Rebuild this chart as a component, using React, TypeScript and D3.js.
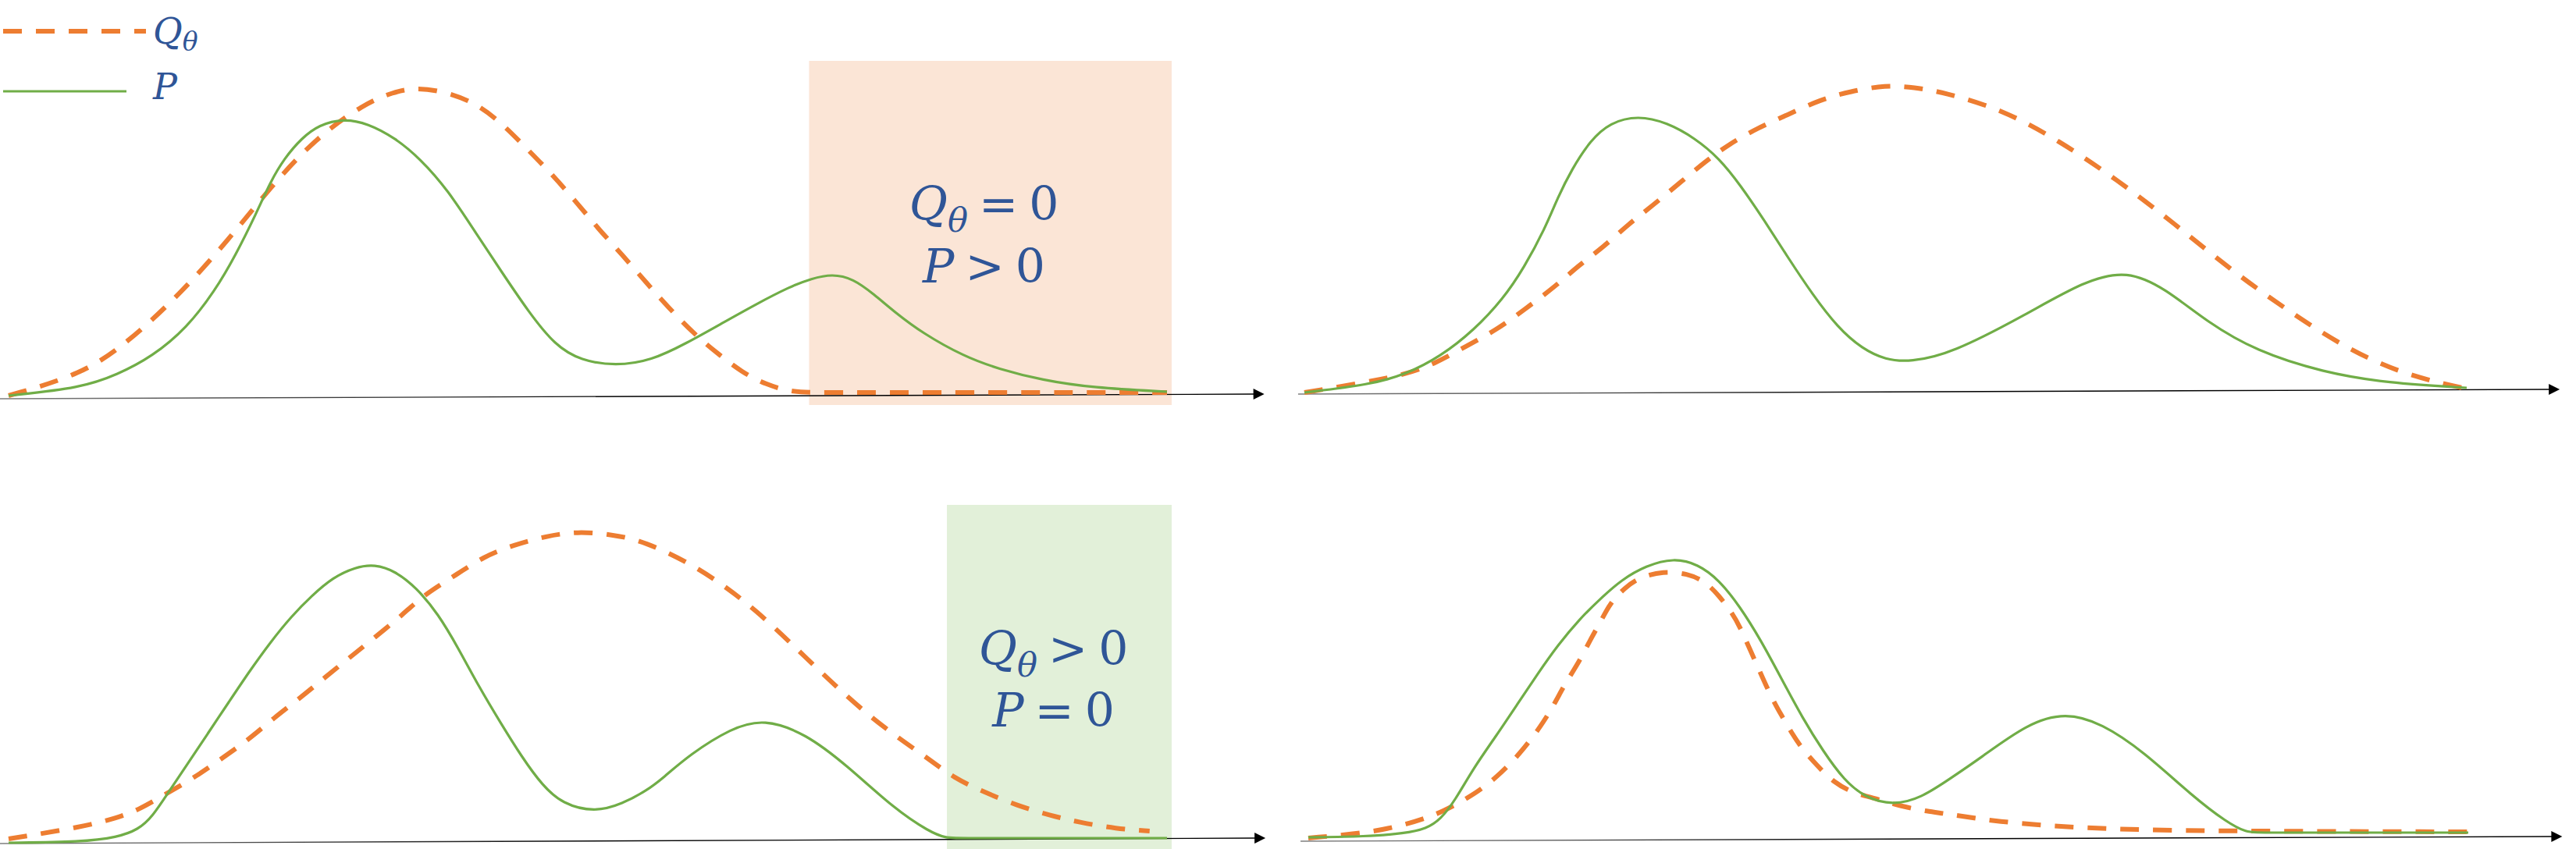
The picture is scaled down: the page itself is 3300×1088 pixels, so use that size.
import * as d3 from "d3";
import * as React from "react";

const W = 3300;
const H = 1088;
const ORANGE = "#ED7D31";
const GREEN = "#70AD47";
const BLUE = "#2F5597";
const FONT = "DejaVu Serif";

// each curve: [position along the axis 0..100, density 0..100]
const tlP = [[0, 0.75], [6.3, 3.25], [9.4, 7.5], [12.4, 13.25], [15.4, 22.5], [17.8, 34.25], [19.6, 45.75], [21.4, 59.25], [22.6, 69.25], [23.8, 76.75], [25.3, 83.25], [26.8, 87.5], [28.9, 89.5], [31, 88], [33.4, 83.25], [35.5, 76.75], [37.9, 66.75], [40.4, 52.5], [42.5, 40.75], [44.9, 27.5], [47.2, 16.75], [49.4, 12], [52.4, 10.25], [55.5, 12], [58.5, 17.5], [61.5, 23.75], [64.5, 30], [67.5, 35.75], [69.3, 38.25], [71.1, 39.75], [72.9, 38.25], [74.7, 33.25], [76.5, 27.5], [78.9, 20.75], [82.5, 13.25], [85.5, 9.25], [89.2, 5.75], [93.6, 3.25], [100, 2]];
const tlQ = [[0, 0.75], [6.3, 7.5], [10.2, 17.5], [14.8, 33.25], [19, 50.75], [22.6, 67.5], [26.5, 83.25], [30.7, 94.25], [33.2, 98], [35.2, 99.5], [37.9, 98], [40.4, 94.25], [42.5, 88.25], [44.5, 80.75], [46.7, 72.5], [48.9, 63.25], [50.9, 54.25], [53, 45.75], [55.1, 36.75], [56.9, 29.25], [59.1, 20.75], [61.2, 14.25], [63.3, 8.25], [65.4, 4.25], [67.5, 2], [69.3, 1.75], [72, 1.75], [100, 1.75]];

const trP = [[0, 0.75], [5.6, 3.25], [8.7, 6.5], [11.7, 12.25], [14.6, 20.75], [17.1, 30.75], [18.9, 40.75], [20.7, 53.25], [21.8, 63.25], [23, 72.25], [24.6, 81.5], [26.3, 87.25], [28.7, 89.5], [31.2, 87.25], [33.6, 82.25], [35.7, 75.75], [37.5, 67.25], [39.6, 55.75], [41.6, 44], [43.7, 32.25], [45.9, 21.5], [48, 14.75], [50, 11.25], [52.1, 10.5], [55.7, 13.25], [62.1, 25.75], [67.1, 36.5], [70.8, 40], [74.1, 34], [77.7, 23.25], [81.9, 14], [87.6, 7.25], [93.2, 3.75], [100, 2.25]];
const trQ = [[0, 0.75], [4.5, 3.5], [8.7, 6.5], [11.1, 9.75], [14, 15.75], [16.5, 20.75], [18.9, 27.25], [21.6, 34.75], [23.6, 41.5], [25.7, 47.25], [27.9, 54.75], [30, 60.75], [32.4, 68.25], [34.5, 74.75], [36.5, 80.25], [39, 85.5], [41.6, 89.75], [44.3, 94.5], [47, 97.25], [50, 99.25], [52.5, 98.5], [54.9, 97], [60, 91.5], [64.9, 81.5], [69.9, 69], [74.9, 54.75], [79.8, 39.75], [84.8, 26.5], [89.7, 14.75], [94.6, 6.5], [99.6, 2.25]];

const blP = [[0, 0], [6.3, 0.25], [9.4, 1.75], [11.2, 4.25], [12.4, 8.25], [13.9, 16.75], [15.4, 25], [17.2, 35], [19, 45], [20.8, 55], [22.6, 64.25], [24.4, 72.5], [26.2, 79.25], [28, 85], [29.9, 88.25], [31.6, 89.25], [33.4, 87], [35.2, 81.75], [37.1, 73.25], [38.8, 62.5], [40.6, 50], [42.5, 38.25], [44.3, 27.5], [46.1, 18.25], [47.8, 12.5], [50.6, 9.75], [53, 12.5], [55.1, 16.75], [56.5, 20.75], [58.8, 28.25], [62.4, 36.75], [65.2, 39.75], [68.8, 35], [72.3, 25], [76.5, 10.75], [79.5, 3.5], [80.9, 1.5], [82, 1.5], [100, 1.5]];
const blQ = [[0, 1.25], [6.3, 5], [9.4, 8], [11.2, 10.5], [13.5, 15.5], [16, 20.75], [18.4, 27], [20.8, 33.25], [22.9, 40], [25.3, 46.75], [27.4, 53.25], [29.5, 59.5], [31.6, 65.75], [34, 73], [35.8, 79.25], [38.3, 85], [41, 91.75], [43.7, 95.5], [46.4, 98.25], [49.1, 99.75], [52.1, 98.75], [54.8, 96.75], [59.6, 88.25], [64.5, 75], [69.5, 56.75], [74.5, 39.5], [79.4, 27], [81.6, 20.75], [84.2, 16.25], [87, 12], [89.9, 8.75], [92.5, 6.5], [95.6, 4.5], [98.5, 3.75]];

const brP = [[0, 0.75], [5, 1], [8.3, 2], [10.2, 3.5], [11.4, 6.5], [12.6, 12.25], [14.3, 23.25], [16.2, 33.25], [18, 43.25], [19.8, 53.25], [21.5, 62.25], [23.4, 70.75], [25.2, 77.25], [27, 83.25], [29.1, 87.75], [31.5, 90.25], [33.6, 88.25], [35.4, 83.25], [37.2, 74.75], [39, 64], [40.8, 51.5], [42.6, 39], [44.4, 28.25], [46.2, 19], [48, 13.5], [50.4, 11], [52.8, 13.25], [55.4, 19.75], [57.8, 25.75], [62, 37.25], [65.3, 40.75], [68.4, 37.25], [72, 28.25], [76.2, 14], [79.2, 5.5], [80.9, 2.25], [82, 2.25], [100, 2.25]];
const brQ = [[0, 0.5], [5.3, 2.25], [8.3, 4.75], [10.2, 7], [11.6, 9], [14.1, 14], [16.2, 19.75], [18.2, 27.25], [20.1, 36.5], [21.3, 44], [22.1, 49.75], [23.4, 57.25], [24.3, 64], [25.2, 69.75], [26, 75.75], [27.3, 80.75], [28.5, 84], [30.6, 86], [32.7, 85.25], [34.2, 82.75], [35.4, 78.25], [36.6, 72.25], [37.2, 68.25], [38.1, 60.75], [39, 53.25], [39.9, 45.75], [40.8, 39.75], [41.7, 34], [42.6, 29], [43.8, 24], [45.3, 18.25], [47.1, 14.75], [48.9, 13.25], [51, 10.75], [53.4, 9], [55.2, 8.25], [59.2, 5.75], [66.3, 3.75], [74.8, 2.75], [100, 2.5]];

// axis start / arrow tip, same units
const tlAxis = [[-0.74, -0.25], [108.4, 1.25]];
const trAxis = [[-0.54, 0.25], [108, 1.75]];
const blAxis = [[-0.74, -0.25], [108.5, 1.5]];
const brAxis = [[-0.67, -0.5], [108.1, 1]];

// shaded regions [x0, x1, y0, y1]
const tlBox = [69.1, 100.4, -2.25, 108];
const blBox = [81, 100.4, -2, 108.25];

const tlNote = { q: "=", p: ">", at: [84.2, 57, 37] };
const blNote = { q: ">", p: "=", at: [90.2, 57, 37.25] };

const panels = [
  { id: "tl", range: [11, 1495], base: 510, p: tlP, q: tlQ, axis: tlAxis, box: tlBox, fill: "#FBE5D6", note: tlNote },
  { id: "tr", range: [1671, 3160], base: 506, p: trP, q: trQ, axis: trAxis },
  { id: "bl", range: [11, 1495], base: 1080, p: blP, q: blQ, axis: blAxis, box: blBox, fill: "#E2F0D9", note: blNote },
  { id: "br", range: [1676, 3162], base: 1076, p: brP, q: brQ, axis: brAxis },
];

function Note({ x, y1, y2, q, p, size }) {
  return (
    <g fill={BLUE} fontFamily={FONT} fontSize={size} textAnchor="middle">
      <text x={x} y={y1}>
        <tspan fontStyle="italic">Q</tspan>
        <tspan fontStyle="italic" fontSize={size * 0.72} dy={15}>θ</tspan>
        <tspan dy={-15} dx={14}>{q}</tspan>
        <tspan dx={14}>0</tspan>
      </text>
      <text x={x} y={y2}>
        <tspan fontStyle="italic">P</tspan>
        <tspan dx={14}>{p}</tspan>
        <tspan dx={14}>0</tspan>
      </text>
    </g>
  );
}

function Panel({ cfg }) {
  const x = d3.scaleLinear().domain([0, 100]).range(cfg.range);
  const y = d3.scaleLinear().domain([0, 100]).range([cfg.base, cfg.base - 400]);
  // B-spline smooths small reading errors without overshooting flat tails
  const line = d3
    .line()
    .x((d) => x(d[0]))
    .y((d) => y(d[1]))
    .curve(d3.curveBasis);

  const [a, b] = cfg.axis;
  const x1 = x(a[0]), y1 = y(a[1]), x2 = x(b[0]), y2 = y(b[1]);
  const ang = Math.atan2(y2 - y1, x2 - x1);
  const c = Math.cos(ang), s = Math.sin(ang);
  const arrow = [
    [x2, y2],
    [x2 - 14 * c - 7 * s, y2 - 14 * s + 7 * c],
    [x2 - 14 * c + 7 * s, y2 - 14 * s - 7 * c],
  ];
  const gid = "ax-" + cfg.id;

  return (
    <g>
      <defs>
        <linearGradient id={gid} gradientUnits="userSpaceOnUse" x1={x1} y1={y1} x2={x2} y2={y2}>
          <stop offset="0" stopColor="#7f7f7f" />
          <stop offset="0.5" stopColor="#000" />
        </linearGradient>
      </defs>
      {cfg.box && (
        <rect
          x={x(cfg.box[0])}
          y={y(cfg.box[3])}
          width={x(cfg.box[1]) - x(cfg.box[0])}
          height={y(cfg.box[2]) - y(cfg.box[3])}
          fill={cfg.fill}
        />
      )}
      <line x1={x1} y1={y1} x2={x2 - 12 * c} y2={y2 - 12 * s} stroke={`url(#${gid})`} strokeWidth={1.4} />
      <path d={d3.line()(arrow) + "Z"} fill="#000" />
      <path d={line(cfg.q)} fill="none" stroke={ORANGE} strokeWidth={6} strokeDasharray="24 18" />
      <path d={line(cfg.p)} fill="none" stroke={GREEN} strokeWidth={3.2} strokeLinejoin="round" />
      {cfg.note && (
        <Note
          x={x(cfg.note.at[0])}
          y1={y(cfg.note.at[1])}
          y2={y(cfg.note.at[2])}
          q={cfg.note.q}
          p={cfg.note.p}
          size={60}
        />
      )}
    </g>
  );
}

export default function App() {
  return (
    <svg
      width={W}
      height={H}
      viewBox={`0 0 ${W} ${H}`}
      style={{ position: "absolute", left: 0, top: 0, display: "block", background: "#fff" }}
    >
      {panels.map((p) => (
        <Panel key={p.id} cfg={p} />
      ))}
      <g>
        <line x1={4} y1={40} x2={187} y2={40} stroke={ORANGE} strokeWidth={6} strokeDasharray="24 18" />
        <line x1={4} y1={117} x2={162} y2={117} stroke={GREEN} strokeWidth={3.2} />
        <text x={196} y={56} fill={BLUE} fontFamily={FONT} fontSize={46} fontStyle="italic">
          Q<tspan fontSize={33} dy={9}>θ</tspan>
        </text>
        <text x={196} y={127} fill={BLUE} fontFamily={FONT} fontSize={46} fontStyle="italic">
          P
        </text>
      </g>
    </svg>
  );
}
